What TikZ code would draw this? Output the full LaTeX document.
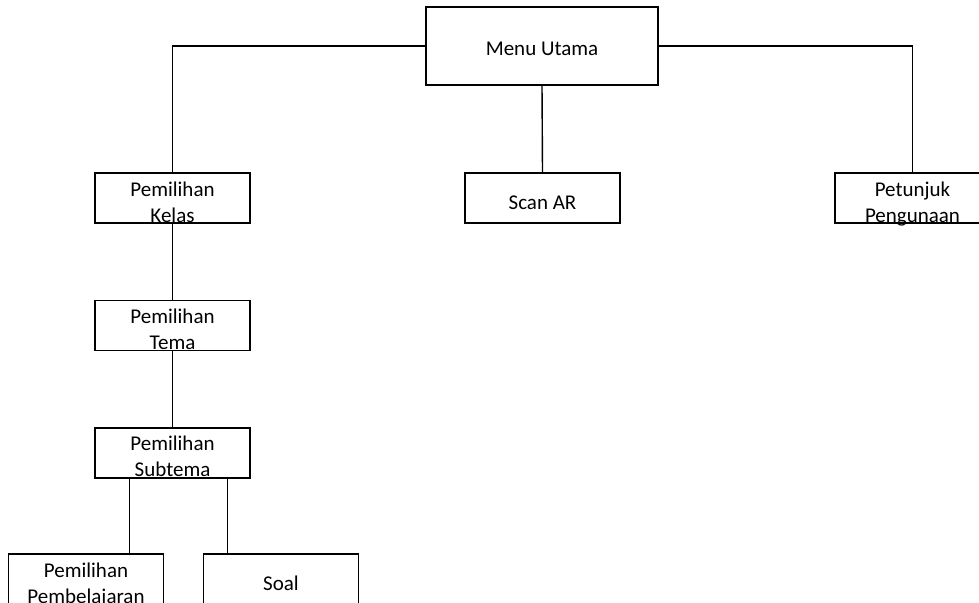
\documentclass[tikz,border=0pt]{standalone}
\usepackage{fontspec}
\setmainfont{Carlito}
\usetikzlibrary{positioning,calc}

\begin{document}
\begin{tikzpicture}[
  x=1pt, y=-1pt,
  font=\fontsize{21}{26}\selectfont,
  node distance=76pt,
  box/.style={
    draw,
    line width=1.4pt,
    minimum width=155pt,
    minimum height=50pt,
    align=center,
    inner xsep=4pt,
    inner ysep=0pt,
    text height=48pt,
    text depth=0pt
  },
  oneline/.style={text height=22pt},
  link/.style={line width=1.4pt}
]
\useasboundingbox (0,0) rectangle (979,602);

\node[box, oneline, text height=20pt, minimum width=232pt, minimum height=78pt] (menu) at (542,46) {Menu Utama};

\node[box] (kelas) at (172.5,198) {Pemilihan\\Kelas};
\node[box, oneline] (scan) at (542.5,198) {Scan AR};
\node[box] (petunjuk) at (912.5,198) {Petunjuk\\Pengunaan};

\node[box, below=of kelas] (tema) {Pemilihan\\Tema};
\node[box, below=of tema] (subtema) {Pemilihan\\Subtema};

\node[box] (pembelajaran) at (86,579) {Pemilihan\\Pembelajaran};
\node[box, oneline] (soal) at (281,579) {Soal};

\draw[link] (menu.west) -| (kelas.north);
\draw[link] (menu.east) -| (petunjuk.north);
\draw[link] (menu.south) -- (scan.north);
\draw[link] (kelas) -- (tema);
\draw[link] (tema) -- (subtema);

\coordinate (kiri) at ([xshift=35pt]subtema.south west);
\coordinate (kanan) at ([xshift=-23pt]subtema.south east);
\draw[link] (kiri) -- (kiri |- pembelajaran.north);
\draw[link] (kanan) -- (kanan |- soal.north);

\end{tikzpicture}
\end{document}
